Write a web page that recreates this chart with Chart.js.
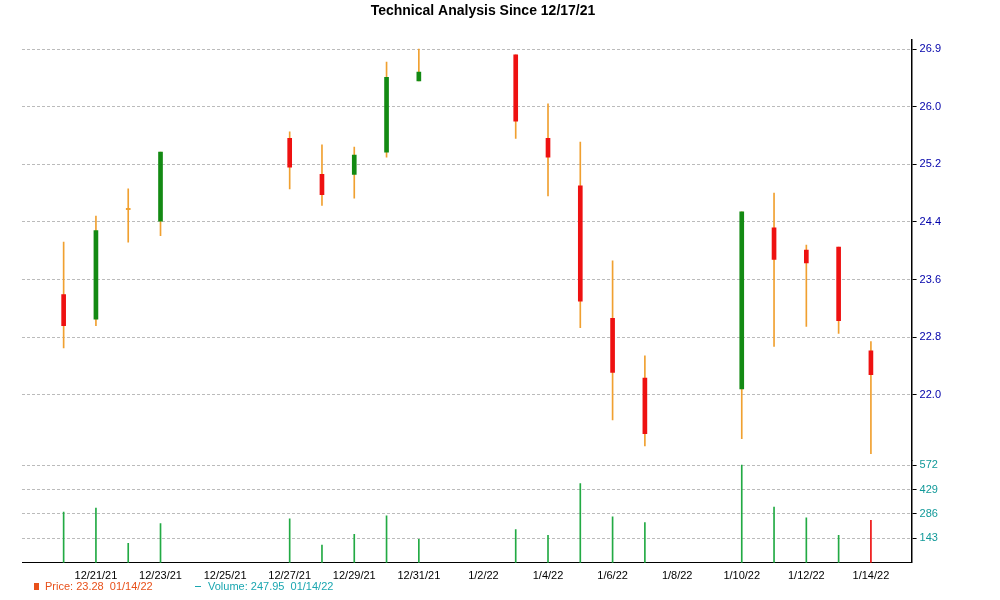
<!DOCTYPE html>
<html><head><meta charset="utf-8">
<script src="https://cdn.jsdelivr.net/npm/chart.js@4/dist/chart.umd.min.js"></script>
<style>html,body{margin:0;padding:0;background:#fff}#w{width:1000px;height:600px;position:relative}</style>
</head><body><div id="w"><canvas id="c"></canvas></div>
<script>
const dayIndex=[0,1,2,3,7,8,9,10,11,14,15,16,17,18,21,22,23,24,25];
const opens =[23.39,23.05,24.58,24.41,25.56,25.06,25.06,25.37,26.36,26.72,25.56,24.90,23.06,22.23,22.08,24.32,24.01,24.05,22.61];
const closes=[22.96,24.28,24.58,25.37,25.16,24.78,25.33,26.41,26.48,25.80,25.30,23.30,22.31,21.46,24.54,23.88,23.83,23.03,22.28];
const highs =[24.12,24.48,24.86,25.37,25.65,25.47,25.44,26.62,26.80,26.72,26.04,25.51,23.86,22.54,24.54,24.80,24.08,24.05,22.74];
const lows  =[22.65,22.96,24.12,24.21,24.86,24.63,24.73,25.30,26.36,25.56,24.76,22.93,21.65,21.29,21.39,22.67,22.95,22.85,21.18];
const volumes=[297,320,114,229,257,103,166,275,137,194,160,463,269,235,572,326,263,160,248];
const dateLabels=['12/20/21','12/21/21','12/22/21','12/23/21','12/24/21','12/25/21','12/26/21','12/27/21','12/28/21','12/29/21','12/30/21','12/31/21','1/1/22','1/2/22','1/3/22','1/4/22','1/5/22','1/6/22','1/7/22','1/8/22','1/9/22','1/10/22','1/11/22','1/12/22','1/13/22','1/14/22'];
const priceTicks=[22.0,22.8,23.6,24.4,25.2,26.0,26.8];
const priceTickLabels=['22.0','22.8','23.6','24.4','25.2','26.0','26.9'];
const volTicks=[143,286,429,572];

const bodyColor=dayIndex.map((d,i)=>closes[i]>opens[i]?'#138a13':(closes[i]<opens[i]?'#ee1111':'#f0a030'));
const bodies=dayIndex.map((d,i)=>({x:d,y:closes[i]===opens[i]?[opens[i]-0.01,opens[i]+0.01]:[opens[i],closes[i]]}));
const wicks=dayIndex.map((d,i)=>({x:d,y:[lows[i],highs[i]]}));
const vols=dayIndex.map((d,i)=>({x:d,y:volumes[i]}));
const volColor=dayIndex.map((d,i)=>i===dayIndex.length-1?'#ee1111':'#22aa44');

const legendPlugin={id:'lg',afterDraw(ch){const c=ch.ctx;c.save();c.font='11px Arial, "Liberation Sans"';c.textBaseline='middle';
 c.fillStyle='#e8501a';c.fillRect(34,583,5,7);c.fillText('Price: 23.28  01/14/22',45,587);
 c.fillStyle='#1aa6b0';c.fillRect(195,586,6,1);c.fillText('Volume: 247.95  01/14/22',208,587);c.restore();}};

new Chart(document.getElementById('c'),{
 type:'bar',
 data:{datasets:[
  {data:wicks,yAxisID:'y',backgroundColor:'#f0a030',barThickness:1,grouped:false,order:2},
  {data:bodies,yAxisID:'y',backgroundColor:bodyColor,barThickness:4,grouped:false,order:1},
  {data:vols,yAxisID:'v',backgroundColor:volColor,barThickness:1,grouped:false}
 ]},
 plugins:[legendPlugin],
 options:{responsive:true,maintainAspectRatio:false,animation:false,
  layout:{padding:{left:22,right:56,top:0,bottom:14}},
  plugins:{legend:{display:false},tooltip:{enabled:false},
   title:{display:true,text:'Technical Analysis Since 12/17/21',color:'#000',font:{family:'Arial, "Liberation Sans"',size:14,weight:'bold'},padding:{top:3,bottom:20}}},
  scales:{
   x:{type:'linear',min:-0.23,max:25.2,
     afterBuildTicks(s){s.ticks=[];for(let i=1;i<dateLabels.length;i+=2)s.ticks.push({value:i});},
     ticks:{autoSkip:false,maxRotation:0,color:'#000',font:{family:'Arial, "Liberation Sans"',size:11},callback:v=>dateLabels[v]},
     grid:{display:false,drawTicks:true,tickLength:4},border:{color:'#000'}},
   y:{type:'linear',position:'right',stack:'s',stackWeight:4.1,min:21.09,max:26.93,
     afterBuildTicks(s){s.ticks=priceTicks.map(v=>({value:v}));},
     ticks:{color:'#0000aa',font:{family:'Arial, "Liberation Sans"',size:11},callback:v=>priceTickLabels[priceTicks.indexOf(v)]},
     grid:{color:'#bbb',tickLength:5,tickColor:'#000'},border:{color:'#000',dash:[3,2],width:1.5}},
   v:{type:'linear',position:'right',stack:'s',stackWeight:1,min:0,max:600,
     afterBuildTicks(s){s.ticks=volTicks.map(v=>({value:v}));},
     ticks:{color:'#119999',font:{family:'Arial, "Liberation Sans"',size:11}},
     grid:{color:'#bbb',tickLength:5,tickColor:'#000'},border:{color:'#000',dash:[3,2],width:1.5}}
  }}
});
</script></body></html>
